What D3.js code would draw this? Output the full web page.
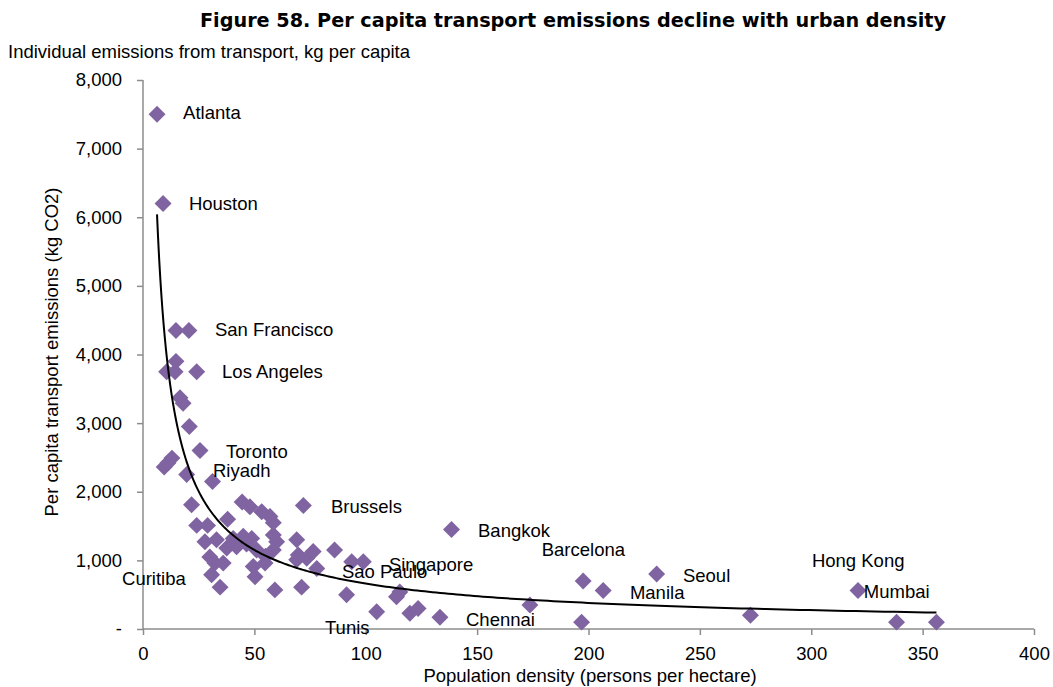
<!DOCTYPE html>
<html>
<head>
<meta charset="utf-8">
<script src="https://cdn.jsdelivr.net/npm/d3@7"></script>
<style>
  body { margin: 0; background: #fff; }
  svg text { font-family: "Liberation Sans", Arial, sans-serif; fill: #000; }
</style>
</head>
<body>
<svg id="chart" width="1053" height="687"></svg>
<script>
// Population density (persons per hectare) for each city
const density = [
  6.3, 9.0, 14.8, 20.6, 10.6, 14.4, 14.8, 24.1, 16.6, 18.0,
  20.8, 25.6, 9.5, 11.2, 13.0, 19.6, 31.2, 21.8, 44.5, 48.0,
  53.3, 57.0, 58.5, 38.0, 24.1, 29.0, 45.0, 48.8, 58.5, 60.0,
  69.0, 27.8, 33.0, 37.6, 42.0, 51.0, 58.5, 76.4, 69.7, 86.0,
  30.0, 32.3, 36.0, 49.5, 54.8, 69.0, 73.5, 78.0, 93.7, 98.9,
  30.8, 34.6, 50.3, 59.2, 71.2, 91.4, 115.3, 113.8, 104.9, 119.8,
  123.5, 133.3, 138.5, 173.7, 196.9, 197.6, 206.6, 230.6, 272.7, 321.0,
  338.3, 356.2, 72.0, 46.5, 55.0, 40.5
];
// Per capita transport emissions (kg CO2) for each city
const emissions = [
  7500, 6200, 4350, 4350, 3750, 3750, 3900, 3750, 3370, 3290,
  2950, 2600, 2360, 2420, 2490, 2250, 2150, 1810, 1850, 1780,
  1710, 1640, 1550, 1600, 1510, 1510, 1350, 1320, 1370, 1270,
  1300, 1270, 1300, 1180, 1200, 1150, 1150, 1130, 1080, 1150,
  1050, 960, 960, 910, 960, 1010, 1030, 880, 980, 980,
  790, 610, 760, 570, 610, 500, 540, 470, 250, 230,
  300, 170, 1450, 350, 100, 700, 560, 800, 200, 560,
  100, 100, 1800, 1240, 1060, 1320
];

// City name annotations, anchored in data units
const cityLabels = [
  "Atlanta", "Houston", "San Francisco", "Los Angeles", "Toronto", "Riyadh",
  "Curitiba", "Brussels", "Sao Paulo", "Singapore", "Tunis", "Chennai",
  "Bangkok", "Barcelona", "Manila", "Seoul", "Hong Kong", "Mumbai"
];
const labelDensity = [
  18.0, 20.6, 32.3, 35.5, 37.3, 31.4,
  -9.4, 84.4, 89.3, 110.4, 81.7, 145.0,
  150.4, 179.0, 218.6, 242.4, 300.3, 323.6
];
const labelEmissions = [
  7520, 6195, 4360, 3746, 2580, 2303,
  729, 1778, 831, 933, 15, 131,
  1429, 1152, 525, 773, 991, 539
];

const xTicks = [0, 50, 100, 150, 200, 250, 300, 350, 400];
const yTicks = [0, 1000, 2000, 3000, 4000, 5000, 6000, 7000, 8000];

// Power-law trend line: emissions = trendA * density ^ trendB
const trendA = 26340;
const trendB = -0.8;

const svg = d3.select("#chart");
const plot = { left: 143, right: 1034, top: 80, bottom: 629 };

const x = d3.scaleLinear().domain([0, 400]).range([plot.left, plot.right]);
const y = d3.scaleLinear().domain([0, 8000]).range([plot.bottom, plot.top]);

const axisColor = "#8c8c8c";
const markColor = "#8064a2";
const fontSize = "18.5px";

// Title and subtitle
svg.append("text")
  .attr("x", 573).attr("y", 27)
  .attr("text-anchor", "middle")
  .attr("textLength", 746).attr("lengthAdjust", "spacingAndGlyphs")
  .style("font-family", "'DejaVu Sans', sans-serif")
  .style("font-weight", "bold").style("font-size", "20px")
  .text("Figure 58. Per capita transport emissions decline with urban density");

svg.append("text")
  .attr("x", 8).attr("y", 58)
  .style("font-size", fontSize)
  .text("Individual emissions from transport, kg per capita");

// Axes
const yAxis = d3.axisLeft(y).tickValues(yTicks).tickSize(6).tickPadding(15)
  .tickFormat(d => d === 0 ? "-" : d3.format(",")(d));
const xAxis = d3.axisBottom(x).tickValues(xTicks).tickSize(6).tickPadding(8)
  .tickFormat(d3.format("d"));

const gy = svg.append("g").attr("transform", `translate(${plot.left},0)`).call(yAxis);
const gx = svg.append("g").attr("transform", `translate(0,${plot.bottom})`).call(xAxis);

[gx, gy].forEach(g => {
  g.select(".domain").attr("stroke", axisColor).attr("stroke-width", 1.5)
    .attr("d", g === gx
      ? `M${plot.left},0H${plot.right}`
      : `M0,${plot.top}V${plot.bottom}`);
  g.selectAll(".tick line").attr("stroke", axisColor).attr("stroke-width", 1.5);
  g.selectAll(".tick text")
    .style("font-family", "'Liberation Sans', Arial, sans-serif")
    .style("font-size", fontSize).attr("fill", "#000");
});
gx.selectAll(".tick text").attr("dy", "0.9em");

// Axis titles
svg.append("text")
  .attr("transform", "translate(58,352) rotate(-90)")
  .attr("text-anchor", "middle")
  .style("font-size", fontSize)
  .text("Per capita transport emissions (kg CO2)");

svg.append("text")
  .attr("x", 590).attr("y", 682)
  .attr("text-anchor", "middle")
  .style("font-size", fontSize)
  .text("Population density (persons per hectare)");

// Data points as diamonds
const points = density.map((d, i) => ({ d, e: emissions[i] }));
const diamond = d3.symbol(d3.symbolSquare, 144);
svg.append("g").selectAll("path")
  .data(points)
  .join("path")
  .attr("d", diamond)
  .attr("transform", p => `translate(${x(p.d)},${y(p.e)}) rotate(45)`)
  .attr("fill", markColor);

// Trend line across the density range
const [xmin, xmax] = d3.extent(density);
const trendPts = d3.range(0, 301).map(i => {
  const dv = xmin * Math.pow(xmax / xmin, i / 300);
  return [dv, trendA * Math.pow(dv, trendB)];
});
svg.append("path")
  .datum(trendPts)
  .attr("fill", "none")
  .attr("stroke", "#000")
  .attr("stroke-width", 2)
  .attr("d", d3.line().x(p => x(p[0])).y(p => y(p[1])));

// City labels
svg.append("g").selectAll("text")
  .data(cityLabels.map((t, i) => ({ t, d: labelDensity[i], e: labelEmissions[i] })))
  .join("text")
  .attr("x", l => x(l.d))
  .attr("y", l => y(l.e))
  .attr("dy", "0.35em")
  .style("font-size", fontSize)
  .text(l => l.t);
</script>
</body>
</html>
